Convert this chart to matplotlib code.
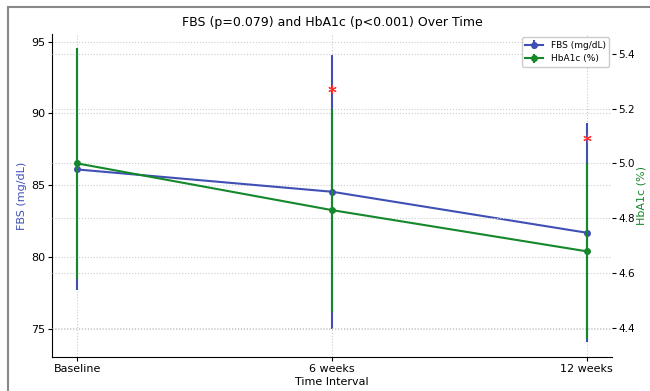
import matplotlib.pyplot as plt
from matplotlib.patches import Rectangle

# data
intervals = ['Baseline', '6 weeks', '12 weeks']
fbs_mean = [86.1, 84.55, 81.7]
fbs_err = [8.4, 9.55, 7.6]
hba1c_mean = [5.0, 4.83, 4.68]
hba1c_err = [0.42, 0.37, 0.32]
sig_x = [1, 2]
sig_fbs = [91.7, 88.3]

blue = '#3f4fb4'
green = '#14882a'

fig = plt.figure(figsize=(6.5, 3.91), dpi=100)
ax1 = fig.add_axes([0.08, 0.087, 0.8615, 0.825])
x = list(range(len(intervals)))

ax1.errorbar(x, fbs_mean, yerr=fbs_err, color=blue, marker='o', markersize=4,
             linewidth=1.5, elinewidth=1.5, label='FBS (mg/dL)')
ax1.plot(sig_x, sig_fbs, linestyle='none', marker=(6, 2, 0), markersize=6,
         color='#ff3030', markeredgewidth=0.8)
ax1.set_ylim(73.05, 95.5)
ax1.set_xlim(-0.1, 2.1)
ax1.set_xticks(x)
ax1.set_xticklabels(intervals)
ax1.set_yticks([75, 80, 85, 90, 95])
ax1.set_xlabel('Time Interval', fontsize=8, labelpad=2)
ax1.set_ylabel('FBS (mg/dL)', color=blue, fontsize=8, labelpad=3)
ax1.tick_params(labelsize=8, length=3, pad=2)
ax1.grid(True, linestyle=':', color='#cccccc', linewidth=0.8)
ax1.spines['top'].set_visible(False)
ax1.spines['right'].set_visible(False)

ax2 = ax1.twinx()
ax2.errorbar(x, hba1c_mean, yerr=hba1c_err, color=green, marker='o', markersize=4,
             linewidth=1.5, elinewidth=1.5, label='HbA1c (%)')
ax2.set_ylim(4.295, 5.47)
ax2.set_yticks([4.4, 4.6, 4.8, 5.0, 5.2, 5.4])
ax2.set_ylabel('HbA1c (%)', color=green, fontsize=8, labelpad=1)
ax2.tick_params(labelsize=7.5, length=3, pad=1.5)
ax2.grid(True, axis='y', linestyle=':', color='#cccccc', linewidth=0.8)
for s in ax2.spines.values():
    s.set_visible(False)

h1, l1 = ax1.get_legend_handles_labels()
h2, l2 = ax2.get_legend_handles_labels()
ax2.legend(h1 + h2, l1 + l2, loc='upper right', fontsize=6.5, framealpha=1,
           borderaxespad=0.3)

ax1.set_title('FBS (p=0.079) and HbA1c (p<0.001) Over Time', fontsize=9)

# outer frame of the cropped screenshot
fig.patches.append(Rectangle((8 / 650, -0.05), 1.2, 1 - 7 / 391 + 0.05,
                             transform=fig.transFigure, fill=False,
                             edgecolor='#888888', linewidth=1.5))

fig.savefig('out.png', dpi=100)
